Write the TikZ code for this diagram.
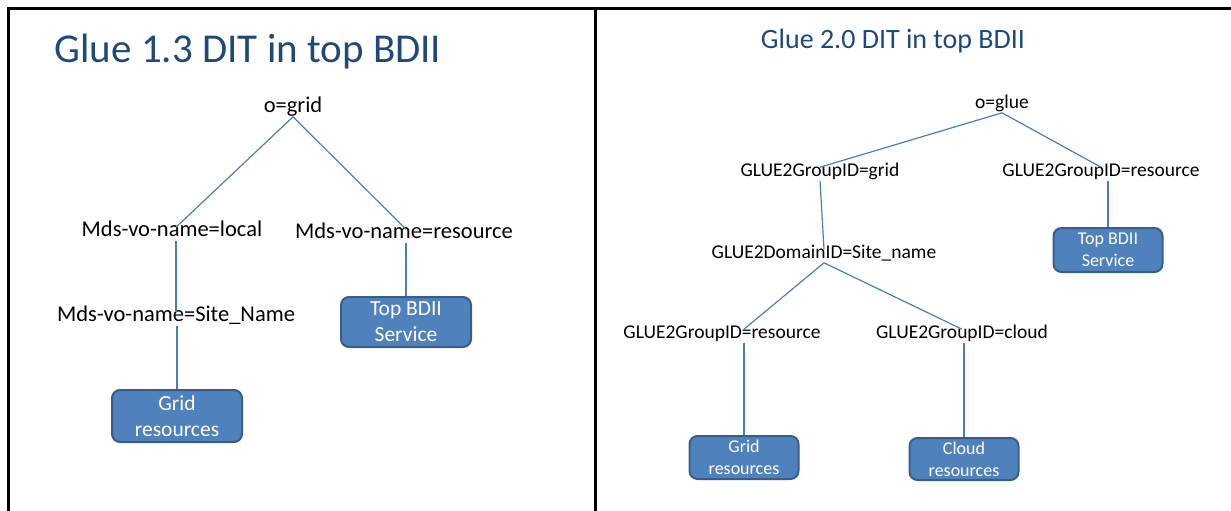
\documentclass[tikz,border=0pt]{standalone}
\usepackage{fontspec}
\setmainfont{Carlito}
\usetikzlibrary{positioning}
\definecolor{titleblue}{RGB}{31,73,125}
\definecolor{boxfill}{RGB}{79,129,189}
\definecolor{boxline}{RGB}{56,93,138}
\definecolor{linkblue}{RGB}{74,126,187}

\begin{document}
\begin{tikzpicture}[x=1pt,y=-1pt,
   lbl/.style={inner sep=2pt, text height=0.72em, text depth=0.2em},
   bigfont/.style={font=\fontsize{22.5}{27}\selectfont},
   smallfont/.style={font=\fontsize{19.5}{24}\selectfont},
   box/.style={draw=boxline, line width=2pt, fill=boxfill, rounded corners=8pt,
      text=white, align=center, inner sep=0pt},
   link/.style={draw=linkblue, line width=1.2pt},
   frame/.style={line width=3pt}]
   \useasboundingbox (0,0) rectangle (1231,511);
   \draw[frame] (8,511) -- (8,9) -- (1231,9);
   \draw[frame] (595,9) -- (595,511);

   % Glue 1.3 tree
   \node[lbl, text=titleblue, font=\fontsize{41}{48}\selectfont] (title1) at (248,60) {Glue 1.3 DIT in top BDII};
   \node[lbl, bigfont] (ogrid)    at (293,110) {o=grid};
   \node[lbl, bigfont] (mdslocal) at (172,234) {Mds-vo-name=local};
   \node[lbl, bigfont] (mdsres)   at (404,236) {Mds-vo-name=resource};
   \node[lbl, bigfont] (sitename) at (176,319) {Mds-vo-name=Site\_Name};
   \node[box, minimum width=130pt, minimum height=52pt, font=\fontsize{21.5}{26}\selectfont]
      (gridres1) at (177,416) {Grid\\resources};
   \node[box, minimum width=130pt, minimum height=50pt, font=\fontsize{21.5}{26}\selectfont]
      (topbdii1) at (406,322) {Top BDII\\Service};
   \path[link]
      (ogrid.south) edge (mdslocal.north -| sitename)
      (ogrid.south) edge (mdsres.north -| topbdii1)
      (mdslocal.south -| sitename) edge (sitename.north)
      (sitename.south -| gridres1) edge (gridres1.north)
      (mdsres.south -| topbdii1) edge (topbdii1.north);

   % Glue 2.0 tree
   \node[lbl, text=titleblue, font=\fontsize{28}{33}\selectfont] (title2) at (893,46) {Glue 2.0 DIT in top BDII};
   \node[lbl, smallfont] (oglue)  at (1002,106) {o=glue};
   \node[lbl, smallfont] (grid2)  at (820,174) {GLUE2GroupID=grid};
   \node[lbl, smallfont] (res2)   at (1101,174) {GLUE2GroupID=resource};
   \node[lbl, smallfont] (domain) at (824,256) {GLUE2DomainID=Site\_name};
   \node[lbl, smallfont] (gres)   at (722,336) {GLUE2GroupID=resource};
   \node[lbl, smallfont] (cloud)  at (962,336) {GLUE2GroupID=cloud};
   \node[box, minimum width=109pt, minimum height=43pt, font=\fontsize{18}{22}\selectfont]
      (gridres2) at (744,457.5) {Grid\\resources};
   \node[box, minimum width=109pt, minimum height=42pt, font=\fontsize{18}{22}\selectfont]
      (cloudres) at (964,459) {Cloud\\resources};
   \node[box, minimum width=109pt, minimum height=44pt, font=\fontsize{18}{22}\selectfont]
      (topbdii2) at (1108,250) {Top BDII\\Service};
   \path[link]
      (oglue.south) edge (grid2.north)
      (oglue.south) edge (res2.north)
      (grid2.south) edge (domain.north)
      (res2.south -| topbdii2) edge (topbdii2.north)
      (domain.south) edge (gres.north -| gridres2)
      (domain.south) edge (cloud.north)
      (gres.south -| gridres2) edge (gridres2.north)
      (cloud.south -| cloudres) edge (cloudres.north);
\end{tikzpicture}
\end{document}
